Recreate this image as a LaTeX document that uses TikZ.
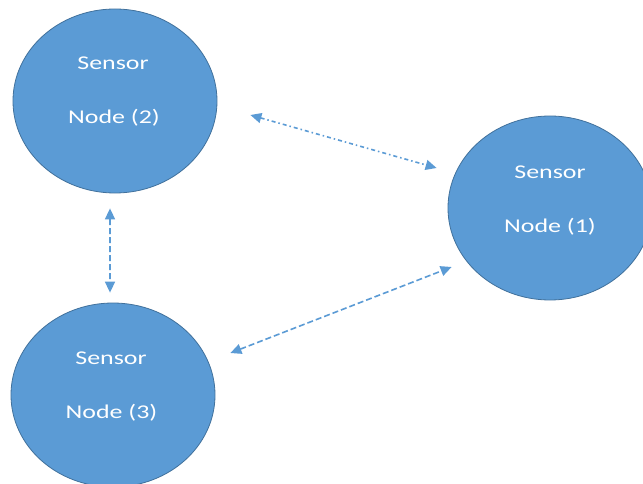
\documentclass[tikz,border=0pt]{standalone}
\usepackage{fontspec}
\newfontfamily\lblfont[FakeStretch=1.33]{Carlito}
\usetikzlibrary{shapes.geometric,arrows.meta}
\definecolor{nodefill}{HTML}{5B9BD5}
\definecolor{nodeedge}{HTML}{41719C}
\definecolor{linkcol}{HTML}{5B9BD5}
\begin{document}
\begin{tikzpicture}[x=1bp,y=-1bp,
  sensor/.style={ellipse, draw=nodeedge, line width=0.8bp, fill=nodefill,
    minimum width=204bp, minimum height=184bp, inner sep=0pt},
  lbl/.style={text=white, anchor=base, inner sep=0pt,
    font=\lblfont\fontsize{19.5bp}{23bp}\selectfont},
  link/.style={draw=linkcol, line width=1.6bp,
    {Triangle[length=11bp,width=10bp]}-{Triangle[length=11bp,width=10bp]}},
  dashdot/.style={dash pattern=on 4bp off 3bp on 1.5bp off 3bp},
  dashlong/.style={dash pattern=on 6bp off 3bp}]
\clip (0,0) rectangle (643,484);
\fill[white] (0,0) rectangle (643,484);
\node[sensor] (n2) at (115,101) {};
\node[sensor] (n1) at (550,208) {};
\node[sensor] (n3) at (113,395) {};
\node[lbl] (n2a) at (113,70) {Sensor};
\node[lbl] (n2b) at (114,124) {Node (2)};
\node[lbl] (n1a) at (550,179) {Sensor};
\node[lbl] (n1b) at (550,232.5) {Node (1)};
\node[lbl] (n3a) at (111,364) {Sensor};
\node[lbl] (n3b) at (111.5,418) {Node (3)};
\draw[link,dashdot] ([xshift=33bp,yshift=-14bp]n2.east) -- ([xshift=-11bp,yshift=40bp]n1.west);
\draw[link,dashlong] ([xshift=-5bp,yshift=-15bp]n2.south) -- ([xshift=-3bp,yshift=10bp]n3.north);
\draw[link,dashlong] ([xshift=15bp,yshift=42bp]n3.east) -- ([xshift=4bp,yshift=-59bp]n1.west);
\end{tikzpicture}
\end{document}
